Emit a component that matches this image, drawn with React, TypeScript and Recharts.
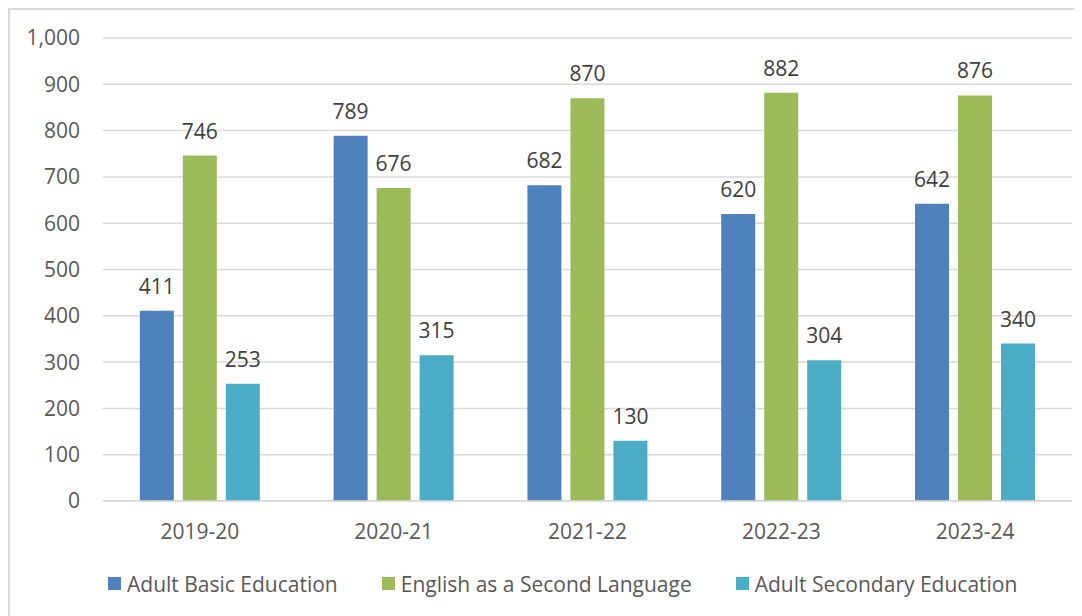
import { BarChart, Bar, XAxis, YAxis, CartesianGrid, Legend, LabelList } from "recharts";

const years = ["2019-20", "2020-21", "2021-22", "2022-23", "2023-24"];
const adultBasic = [411, 789, 682, 620, 642];
const esl = [746, 676, 870, 882, 876];
const adultSecondary = [253, 315, 130, 304, 340];
const yTicks = [0, 100, 200, 300, 400, 500, 600, 700, 800, 900, 1000];

const SERIES = [
    { key: "abe", name: "Adult Basic Education", color: "#4F81BD" },
    { key: "esl", name: "English as a Second Language", color: "#9BBB59" },
    { key: "ase", name: "Adult Secondary Education", color: "#4BACC6" },
];

const data = years.map((y, i) => ({ year: y, abe: adultBasic[i], esl: esl[i], ase: adultSecondary[i] }));

const FONT = "'Open Sans', sans-serif";
const FS = 21;

function LegendBox() {
    return (
        <div style={{ display: "flex", alignItems: "center", height: 55, boxSizing: "border-box", paddingBottom: 10, paddingLeft: 98, fontFamily: FONT, fontSize: FS, color: "#595959" }}>
            {SERIES.map((s) => (
                <div key={s.key} style={{ display: "flex", alignItems: "center", marginRight: 44 }}>
                    <span style={{ width: 13, height: 13, background: s.color, display: "inline-block", marginRight: 6 }} />
                    <span>{s.name}</span>
                </div>
            ))}
        </div>
    );
}

export default function App() {
    return (
        <div style={{ width: 1074, height: 608, overflow: "hidden" }}>
            <div style={{ width: 1090, height: 620, border: "2px solid #D9D9D9", background: "#fff" }}>
                <BarChart width={1080} height={606} data={data} margin={{ top: 28, right: 18, left: 0, bottom: 0 }} barGap={9} barCategoryGap="19%">
                    <CartesianGrid vertical={false} stroke="#D9D9D9" strokeWidth={1.5} />
                    <XAxis dataKey="year" height={60} tickLine={false} axisLine={{ stroke: "#D9D9D9", strokeWidth: 1.5 }} tickMargin={17}
                        tick={{ fill: "#595959", fontSize: FS, fontFamily: FONT }} />
                    <YAxis width={93} domain={[0, 1000]} ticks={yTicks} tickLine={false} axisLine={false} tickMargin={17}
                        tickFormatter={(v: number) => v.toLocaleString("en-US")}
                        tick={{ fill: "#595959", fontSize: FS, fontFamily: FONT }} />
                    <Legend verticalAlign="bottom" height={55} content={() => <LegendBox />} />
                    {SERIES.map((s) => (
                        <Bar key={s.key} dataKey={s.key} name={s.name} fill={s.color} isAnimationActive={false}>
                            <LabelList dataKey={s.key} position="top" offset={17} style={{ fill: "#404040", fontSize: FS, fontFamily: FONT }} />
                        </Bar>
                    ))}
                </BarChart>
            </div>
        </div>
    );
}
